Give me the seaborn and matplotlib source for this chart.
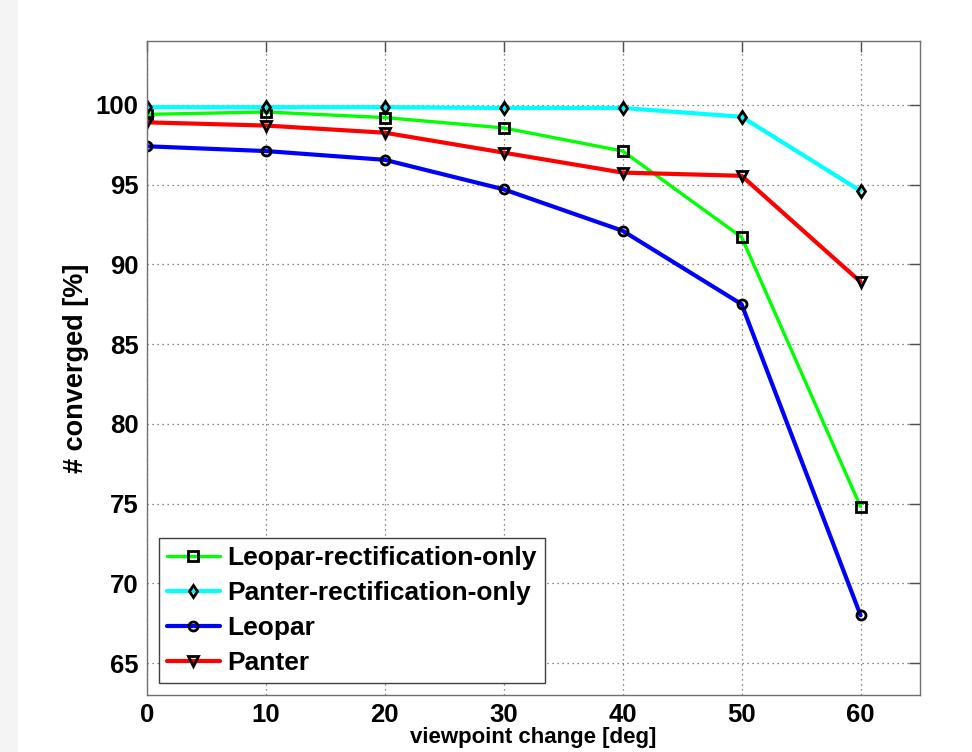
import numpy as np
import pandas as pd
import matplotlib
matplotlib.use("Agg")
import matplotlib.pyplot as plt
import seaborn as sns
from matplotlib.patches import Rectangle

# data
angles = [0, 10, 20, 30, 40, 50, 60]
leopar_rect = [99.4, 99.55, 99.2, 98.55, 97.1, 91.7, 74.8]
panter_rect = [99.85, 99.85, 99.85, 99.8, 99.8, 99.25, 94.6]
leopar = [97.4, 97.1, 96.55, 94.7, 92.1, 87.5, 68.0]
panter = [98.9, 98.7, 98.25, 97.0, 95.75, 95.55, 88.9]

series = [
    ("Leopar-rectification-only", leopar_rect, "#00ff00", "s", 2.4),
    ("Panter-rectification-only", panter_rect, "#00ffff", "d", 3.0),
    ("Leopar", leopar, "#0000ff", "o", 3.0),
    ("Panter", panter, "#ff0000", "v", 3.0),
]

sns.set_style("white")
plt.rcParams["font.family"] = ["Liberation Sans", "DejaVu Sans"]
plt.rcParams["font.weight"] = "bold"
plt.rcParams["text.color"] = "black"
plt.rcParams["axes.labelcolor"] = "black"
plt.rcParams["xtick.color"] = "black"
plt.rcParams["ytick.color"] = "black"

fig = plt.figure(figsize=(9.72, 7.52), dpi=100)
fig.patches.append(Rectangle((0, 0), 18 / 972, 1, transform=fig.transFigure,
                             facecolor="#f4f4f4", edgecolor="none", zorder=0))
ax = fig.add_axes([147 / 972, 1 - 695 / 752, (920 - 147) / 972, (695 - 41) / 752])

for name, vals, color, marker, lw in series:
    df = pd.DataFrame({"angle": angles, "conv": vals})
    sns.lineplot(data=df, x="angle", y="conv", ax=ax, color=color, lw=lw,
                 marker=marker, markersize=6.5, markerfacecolor="none",
                 markeredgecolor="black", markeredgewidth=2, label=name)

ax.set_xlim(0, 65)
ax.set_ylim(63, 104)
ax.set_xticks(range(0, 61, 10))
ax.set_yticks(range(65, 101, 5))
ax.grid(True, color="#606060", linestyle=(0, (1, 3)), linewidth=0.9)
for s in ax.spines.values():
    s.set_color("#707070")
    s.set_linewidth(1.0)
ax.tick_params(direction="in", length=8, width=1, color="#505050",
               labelcolor="black", top=True, right=True, labelsize=18.5, pad=6)
for lbl in ax.get_xticklabels() + ax.get_yticklabels():
    lbl.set_fontweight("bold")

ax.set_xlabel("viewpoint change [deg]", fontsize=16, fontweight="bold", labelpad=0)
ax.set_ylabel("# converged [%]", fontsize=19.5, fontweight="bold", labelpad=5)

leg = ax.legend(loc="lower left", frameon=True, fancybox=False,
                edgecolor="#404040", framealpha=1, handlelength=2.0,
                handletextpad=0.3, borderpad=0.3, labelspacing=0.42,
                borderaxespad=0.45, prop={"weight": "bold", "size": 19})
leg.get_frame().set_linewidth(1.0)

fig.savefig("out.png", dpi=100)
